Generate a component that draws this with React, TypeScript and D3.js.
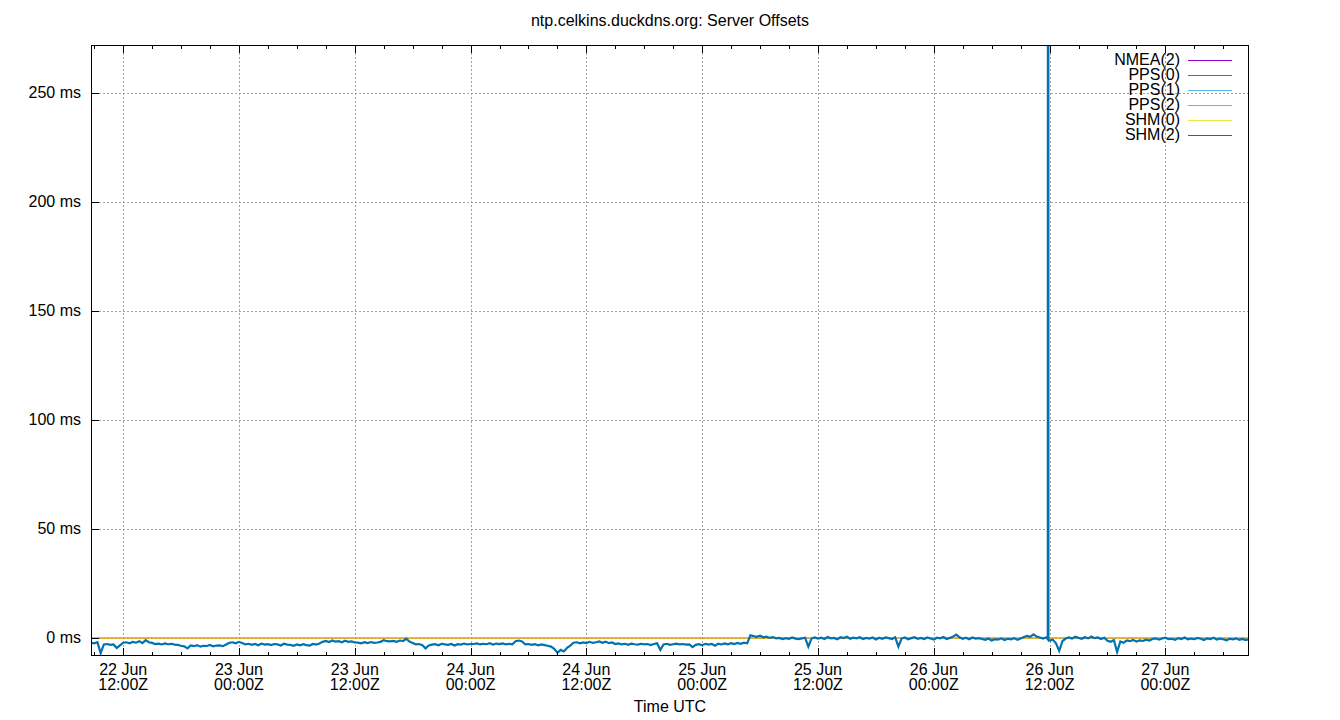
import React, { useRef, useEffect } from 'react';
import * as d3 from 'd3';

// 凡例の系列名と色 (gnuplot の既定色)
const seriesNames = ['NMEA(2)', 'PPS(0)', 'PPS(1)', 'PPS(2)', 'SHM(0)', 'SHM(2)'];
const seriesColors = ['#9400d3', '#009e73', '#56b4e9', '#e69f00', '#f0e442', '#0072b2'];

// 目盛り
const yTicks = [0, 50, 100, 150, 200, 250];
const xStart = '2025-06-22T08:40:00Z';
const xEnd = '2025-06-27T08:40:00Z';

// SHM(2): 20分ごとのオフセット (ms)
const shm2Step = 20; // 分
const shm2Values = [
  -2.2, -2.5, -2.0, -7.0,
  -3.0, -2.8, -3.2, -3.0, -4.6, -3.4,
  -2.2, -2.0, -2.5, -1.8, -2.2, -1.5, -2.4, -1.0, -2.0, -2.3,
  -2.8, -2.6, -3.0, -2.5, -2.9, -2.7, -3.1,
  -3.2, -3.6, -3.9, -4.8, -3.5, -3.8, -3.3, -4.0, -3.6, -3.7, -3.2, -3.9, -3.5, -3.4, -3.8, -3.0,
  -2.2, -2.0, -2.5, -1.8, -2.3,
  -3.0, -2.7, -3.2, -2.8, -3.4, -2.6, -3.1, -2.9, -3.3, -2.8, -3.0, -3.5, -2.7, -3.1,
  -3.2, -3.6, -3.0, -3.4, -2.9, -3.3, -3.5, -2.8, -3.1, -2.6,
  -1.8, -1.4, -1.9, -1.2, -1.7, -1.5, -2.0, -1.3, -1.8, -1.6, -2.1,
  -2.2, -2.5, -2.0, -2.4, -1.9, -2.3, -2.1, -1.8, -1.0, -1.5,
  -1.6, -1.4, -1.8, -1.2, -1.5, -0.4, -1.7, -2.3,
  -3.0, -2.8, -3.3, -4.8, -3.5, -3.1, -2.9, -3.4, -2.7, -3.0, -3.2, -2.8, -3.5, -2.9, -3.1, -2.6, -3.0, -2.8,
  -2.8, -2.5, -3.0, -2.7, -2.9, -2.4, -3.1, -2.6, -2.8, -2.5, -3.0, -2.7, -2.9, -1.5, -1.2,
  -1.6, -3.0, -2.8, -3.2, -2.9, -3.4, -3.0, -3.3, -3.6,
  -4.0, -5.0, -6.8, -5.5, -6.2, -4.5, -3.5,
  -2.2, -2.0, -2.5, -2.1, -2.4, -1.8, -2.3, -2.0, -1.6, -2.2, -1.7, -2.4, -2.1,
  -2.8, -2.5, -3.0, -2.7, -3.2, -2.6, -2.9, -3.1, -2.7, -3.0, -2.8, -3.3,
  -2.8, -2.5, -5.5, -3.0, -2.7, -3.2, -2.9, -2.6, -3.0, -2.8, -3.1,
  -3.0, -4.2, -3.2, -2.9, -3.4, -2.7, -3.1, -2.8, -3.6, -2.6, -3.0, -2.5, -2.9, -2.4, -2.8, -2.3, -2.7, -2.2, -2.5,
  1.2, 0.8, 0.5, 1.0, 0.3, 0.6, 0.0, 0.4, -0.2, 0.0, -0.5, -0.1, -0.4, 0.2, -0.3, -0.6, -0.2, 0.1, -4.0, -0.3,
  0.2, -0.3, 0.1, -0.5, 0.4, -0.2, 0.0, -0.6, 0.3, -0.1, 0.5, -0.4, 0.1, -0.2, 0.3, -0.5, 0.0, -0.3, 0.2, -0.7, 0.1, -0.4, 0.2, -0.1, -0.5, 0.3, -4.0,
  -0.3, 0.2, -0.6, -0.1, 0.3, -0.4, 0.0, -0.5, 0.2, -0.3, -0.8, 0.1, -0.2, 0.4, -0.5, 0.0, 0.6, 1.5, 0.3, -0.4, 0.1, -0.6, 0.2, -0.3, -0.1,
  -0.5, -0.9, -0.3, -1.2, -0.6, -0.8, -0.2, -1.0, -0.4, -0.7, -0.1, -0.9, -0.3, 0.4, 0.9, 0.5, 1.6, 0.6, 0.2, -0.3, 0.3,
  -1.2, -0.8, -2.5, -6.0, -1.5, -0.3,
  0.2, -0.3, 0.5, 0.0, -0.4, 0.3, -0.2, 0.6, -0.1, 0.2, -0.5, 0.1,
  -1.3, -1.8, -1.0, -6.5, -1.6, -2.2, -1.2, -1.5, -0.9, -1.7, -1.1, -1.4, -0.8, -1.2,
  -0.5, -0.2, -0.8, -0.3, 0.1, -0.6, -0.4, -0.9, -0.1, -0.5, 0.2, -0.7, -0.3, -0.6, 0.0, -0.4, -1.0, -0.2, -0.5, 0.1, -0.8, -0.3, -0.6, -1.1, -0.4, -0.7, -0.2, -0.9, -0.5, -1.0, -0.6,
];

// SHM(2) の 26 Jun 12:00Z 直前のスパイク
const shm2SpikeTimes = ['2025-06-26T11:49:00Z', '2025-06-26T11:50:00Z', '2025-06-26T11:52:00Z', '2025-06-26T11:53:00Z'];
const shm2SpikeValues = [-0.6, 420, 410, -0.9];

// PPS(2): ほぼ 0 ms で一定
const pps2Times = [xStart, '2025-06-23T08:40:00Z', '2025-06-24T08:40:00Z', '2025-06-25T08:40:00Z', '2025-06-26T08:40:00Z', xEnd];
const pps2Values = [0.0, 0.0, 0.0, 0.0, 0.0, 0.0];

interface Pt {
  t: Date;
  v: number;
}

const App: React.FC = () => {
  const svgRef = useRef<SVGSVGElement | null>(null);
  const W = 1340;
  const H = 720;

  useEffect(() => {
    document.body.style.margin = '0';
    if (!svgRef.current) return;
    const root = d3.select(svgRef.current);
    root.selectAll('*').remove();

    const left = 91, right = 1249, top = 45, bottom = 656;
    const font = '"Liberation Sans", Arial, sans-serif';

    const x = d3.scaleUtc().domain([new Date(xStart), new Date(xEnd)]).range([left, right]);
    const y = d3.scaleLinear().domain([-8.3, 272]).range([bottom, top]);

    // データ整形
    const t0 = new Date(xStart).getTime();
    const shm2: Pt[] = shm2Values.map((v, i) => ({ t: new Date(t0 + i * shm2Step * 60000), v }));
    shm2SpikeTimes.forEach((s, i) => shm2.push({ t: new Date(s), v: shm2SpikeValues[i] }));
    shm2.sort((a, b) => a.t.getTime() - b.t.getTime());
    const pps2: Pt[] = pps2Times.map((s, i) => ({ t: new Date(s), v: pps2Values[i] }));

    const svg = root.attr('width', W).attr('height', H).style('background', '#fff');

    svg.append('clipPath').attr('id', 'plot-clip')
      .append('rect').attr('x', left).attr('y', top).attr('width', right - left).attr('height', bottom - top);

    // グリッド
    const majorX = d3.utcHour.every(12)!.range(x.domain()[0], x.domain()[1]);
    const minorX = d3.utcHour.every(3)!.range(x.domain()[0], x.domain()[1]);
    const grid = svg.append('g').attr('stroke', '#a0a0a0').attr('stroke-width', 1).attr('stroke-dasharray', '2,2');
    grid.selectAll('.gx').data(majorX).enter().append('line')
      .attr('x1', d => Math.round(x(d)) + 0.5).attr('x2', d => Math.round(x(d)) + 0.5)
      .attr('y1', top).attr('y2', bottom);
    grid.selectAll('.gy').data(yTicks).enter().append('line')
      .attr('x1', left).attr('x2', right)
      .attr('y1', d => Math.round(y(d)) + 0.5).attr('y2', d => Math.round(y(d)) + 0.5);

    // 線
    const line = d3.line<Pt>().x(d => x(d.t)).y(d => y(d.v));
    const plot = svg.append('g').attr('clip-path', 'url(#plot-clip)');
    plot.append('path').datum(pps2).attr('d', line).attr('fill', 'none')
      .attr('stroke', seriesColors[3]).attr('stroke-width', 1.5);
    plot.append('path').datum(shm2).attr('d', line).attr('fill', 'none')
      .attr('stroke', seriesColors[5]).attr('stroke-width', 2.2).attr('stroke-linejoin', 'miter');

    // 枠
    svg.append('rect').attr('x', left + 0.5).attr('y', top + 0.5)
      .attr('width', right - left - 1).attr('height', bottom - top - 1)
      .attr('fill', 'none').attr('stroke', '#000').attr('stroke-width', 1);

    // 目盛り線
    const ticks = svg.append('g').attr('stroke', '#000').attr('stroke-width', 1);
    minorX.forEach(d => {
      const px = Math.round(x(d)) + 0.5;
      const major = d.getUTCHours() % 12 === 0;
      const len = major ? 8 : 4;
      ticks.append('line').attr('x1', px).attr('x2', px).attr('y1', bottom).attr('y2', bottom - len);
      ticks.append('line').attr('x1', px).attr('x2', px).attr('y1', top).attr('y2', top + len);
    });
    yTicks.forEach(v => {
      const py = Math.round(y(v)) + 0.5;
      ticks.append('line').attr('x1', left).attr('x2', left + 8).attr('y1', py).attr('y2', py);
    });

    // 目盛りラベル
    const txt = svg.append('g').attr('font-family', font).attr('font-size', 16).attr('fill', '#000');
    yTicks.forEach(v => {
      txt.append('text').attr('x', left - 10).attr('y', y(v)).attr('dy', '0.33em')
        .attr('text-anchor', 'end').text(`${v} ms`);
    });
    const fDay = d3.utcFormat('%d %b');
    const fHour = d3.utcFormat('%H:%MZ');
    majorX.forEach(d => {
      const px = x(d);
      txt.append('text').attr('x', px).attr('y', 675).attr('text-anchor', 'middle').text(fDay(d));
      txt.append('text').attr('x', px).attr('y', 690).attr('text-anchor', 'middle').text(fHour(d));
    });

    // タイトルと軸ラベル
    txt.append('text').attr('x', (left + right) / 2).attr('y', 26).attr('text-anchor', 'middle')
      .text('ntp.celkins.duckdns.org: Server Offsets');
    txt.append('text').attr('x', (left + right) / 2).attr('y', 712).attr('text-anchor', 'middle')
      .text('Time UTC');

    // 凡例
    const legend = svg.append('g').attr('font-family', font).attr('font-size', 16);
    seriesNames.forEach((name, i) => {
      const ly = 60.5 + i * 15;
      legend.append('text').attr('x', 1180).attr('y', ly - 1.5).attr('dy', '0.35em')
        .attr('text-anchor', 'end').text(name);
      legend.append('line').attr('x1', 1188).attr('x2', 1232).attr('y1', ly).attr('y2', ly)
        .attr('stroke', seriesColors[i]).attr('stroke-width', 1);
    });
  }, []);

  return (
    <div style={{ position: 'absolute', left: 0, top: 0 }}>
      <svg ref={svgRef} width={W} height={H}></svg>
    </div>
  );
};

export default App;
